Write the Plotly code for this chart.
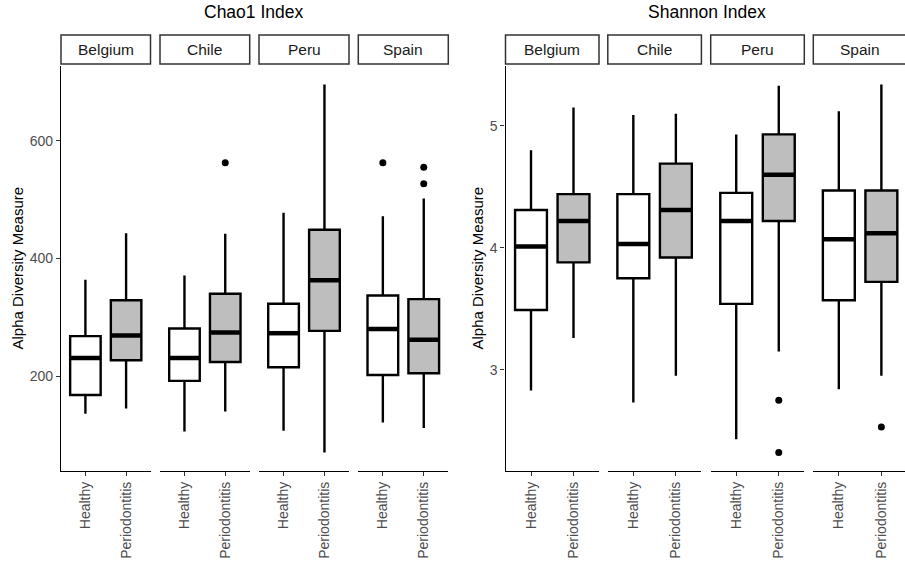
import plotly.graph_objects as go

# ---------------- data ----------------
countries = ["Belgium", "Chile", "Peru", "Spain"]
groups = ["Healthy", "Periodontitis"]
panel_titles = ["Chao1 Index", "Shannon Index"]
y_title = "Alpha Diversity Measure"

chao1_healthy_lower = [136, 106, 107, 121]
chao1_healthy_q1 = [168, 192, 215, 202]
chao1_healthy_median = [231, 231, 273, 280]
chao1_healthy_q3 = [268, 281, 323, 337]
chao1_healthy_upper = [364, 371, 478, 472]
chao1_healthy_outliers = [[], [], [], [563]]

chao1_perio_lower = [145, 140, 70, 112]
chao1_perio_q1 = [227, 224, 277, 205]
chao1_perio_median = [269, 274, 363, 262]
chao1_perio_q3 = [329, 340, 449, 331]
chao1_perio_upper = [443, 442, 696, 502]
chao1_perio_outliers = [[], [563], [], [555, 527]]

shannon_healthy_lower = [2.83, 2.73, 2.43, 2.84]
shannon_healthy_q1 = [3.49, 3.75, 3.54, 3.57]
shannon_healthy_median = [4.01, 4.03, 4.22, 4.07]
shannon_healthy_q3 = [4.31, 4.44, 4.45, 4.47]
shannon_healthy_upper = [4.80, 5.09, 4.93, 5.12]
shannon_healthy_outliers = [[], [], [], []]

shannon_perio_lower = [3.26, 2.95, 3.15, 2.95]
shannon_perio_q1 = [3.88, 3.92, 4.22, 3.72]
shannon_perio_median = [4.22, 4.31, 4.60, 4.12]
shannon_perio_q3 = [4.44, 4.69, 4.93, 4.47]
shannon_perio_upper = [5.15, 5.10, 5.33, 5.34]
shannon_perio_outliers = [[], [], [2.75, 2.32], [2.53]]

chao1_ticks = [200, 400, 600]
shannon_ticks = [3, 4, 5]

# ---------------- styling / layout ----------------
W, H = 905, 563
FONT = "Liberation Sans, Arial, sans-serif"
fills = {"Healthy": "#FFFFFF", "Periodontitis": "#BEBEBE"}
PLOT_TOP, PLOT_BOT = 66, 471
STRIP_TOP, STRIP_BOT = 35, 64


def px(x):
    return x / W


def py(y):
    return 1 - y / H


panels = [
    dict(
        title=panel_titles[0], title_x=254, ytitle_x=17, ticks=chao1_ticks,
        facets=[(61, 150.5), (160, 249.7), (259, 349), (358.3, 448.3)],
        healthy=(chao1_healthy_lower, chao1_healthy_q1, chao1_healthy_median,
                 chao1_healthy_q3, chao1_healthy_upper, chao1_healthy_outliers),
        perio=(chao1_perio_lower, chao1_perio_q1, chao1_perio_median,
               chao1_perio_q3, chao1_perio_upper, chao1_perio_outliers),
    ),
    dict(
        title=panel_titles[1], title_x=706.5, ytitle_x=477, ticks=shannon_ticks,
        facets=[(505.5, 599), (607.8, 701.4), (710.7, 804.3), (813.3, 906.9)],
        healthy=(shannon_healthy_lower, shannon_healthy_q1, shannon_healthy_median,
                 shannon_healthy_q3, shannon_healthy_upper, shannon_healthy_outliers),
        perio=(shannon_perio_lower, shannon_perio_q1, shannon_perio_median,
               shannon_perio_q3, shannon_perio_upper, shannon_perio_outliers),
    ),
]

fig = go.Figure()
layout = dict(
    width=W, height=H, autosize=False,
    margin=dict(l=0, r=0, t=0, b=0),
    paper_bgcolor="white", plot_bgcolor="rgba(0,0,0,0)",
    showlegend=False, boxmode="overlay",
    font=dict(family=FONT, color="#1A1A1A"),
)
shapes, annotations = [], []

ax_i = 0
for p_i, panel in enumerate(panels):
    yname = "yaxis" if p_i == 0 else "yaxis2"
    yref = "y" if p_i == 0 else "y2"
    # data range with 5% expansion (ggplot style)
    allv = []
    for g in ("healthy", "perio"):
        lo, q1, md, q3, up, outs = panel[g]
        allv += lo + up + [v for o in outs for v in o]
    vmin, vmax = min(allv), max(allv)
    pad = 0.05 * (vmax - vmin)
    first_xref = None
    for f_i, (a, b) in enumerate(panel["facets"]):
        ax_i += 1
        xname = "xaxis" if ax_i == 1 else f"xaxis{ax_i}"
        xref = "x" if ax_i == 1 else f"x{ax_i}"
        if first_xref is None:
            first_xref = xref
        full_w = b - a
        right = min(b, W)
        rng_hi = -0.6 + 2.2 * (right - a) / full_w
        layout[xname] = dict(
            domain=[px(a), px(right)], anchor=yref, type="category",
            categoryorder="array", categoryarray=groups,
            range=[-0.6, rng_hi], showgrid=False, zeroline=False,
            showline=True, linecolor="#000000", linewidth=1.3,
            ticks="outside", ticklen=4, tickwidth=1.2, tickcolor="#333333",
            tickangle=-90, tickfont=dict(size=14, color="#4D4D4D", family=FONT),
            fixedrange=True,
        )
        box_px = 0.75 * full_w / 2.2
        for g_key, g_name in (("healthy", groups[0]), ("perio", groups[1])):
            lo, q1, md, q3, up, outs = panel[g_key]
            fig.add_trace(go.Box(
                x=[g_name], lowerfence=[lo[f_i]], q1=[q1[f_i]], median=[md[f_i]],
                q3=[q3[f_i]], upperfence=[up[f_i]],
                xaxis=xref, yaxis=yref, width=0.75, whiskerwidth=0,
                fillcolor=fills[g_name], line=dict(color="#000000", width=2.4),
                boxpoints=False, hoverinfo="skip",
            ))
            # thicker median bar (line-ew symbol spans 1.4 x size)
            fig.add_trace(go.Scatter(
                x=[g_name], y=[md[f_i]], xaxis=xref, yaxis=yref, mode="markers",
                marker=dict(symbol="line-ew", size=(box_px - 1.5) / 1.4,
                            line=dict(color="#000000", width=4.5)),
                hoverinfo="skip",
            ))
            if outs[f_i]:
                fig.add_trace(go.Scatter(
                    x=[g_name] * len(outs[f_i]), y=outs[f_i], xaxis=xref, yaxis=yref,
                    mode="markers", marker=dict(color="#000000", size=7),
                    hoverinfo="skip",
                ))
        # strip
        shapes.append(dict(
            type="rect", xref="paper", yref="paper",
            x0=px(a), x1=px(b), y0=py(STRIP_BOT), y1=py(STRIP_TOP),
            line=dict(color="#333333", width=1.5), fillcolor="white", layer="below",
        ))
        annotations.append(dict(
            text=countries[f_i], xref="paper", yref="paper",
            x=px((a + b) / 2), y=py((STRIP_TOP + STRIP_BOT) / 2),
            xanchor="center", yanchor="middle", showarrow=False,
            font=dict(size=15.5, color="#1A1A1A", family=FONT),
        ))
    layout[yname] = dict(
        domain=[py(PLOT_BOT), py(PLOT_TOP)], anchor=first_xref,
        range=[vmin - pad, vmax + pad], showgrid=False, zeroline=False,
        showline=True, linecolor="#000000", linewidth=1.3,
        ticks="outside", ticklen=4, tickwidth=1.2, tickcolor="#333333",
        tickvals=panel["ticks"], tickfont=dict(size=14, color="#4D4D4D", family=FONT),
        fixedrange=True,
    )
    annotations.append(dict(
        text=panel["title"], xref="paper", yref="paper",
        x=px(panel["title_x"]), y=py(12), xanchor="center", yanchor="middle",
        showarrow=False, font=dict(size=17.5, color="#000000", family=FONT),
    ))
    annotations.append(dict(
        text=y_title, xref="paper", yref="paper", textangle=-90,
        x=px(panel["ytitle_x"]), y=py((PLOT_TOP + PLOT_BOT) / 2),
        xanchor="center", yanchor="middle", showarrow=False,
        font=dict(size=15, color="#000000", family=FONT),
    ))

layout["shapes"] = shapes
layout["annotations"] = annotations
fig.update_layout(**layout)
fig.write_html(
    "out.html",
    config={"displayModeBar": False},
    post_script="document.body.style.margin='0';document.body.style.padding='0';"
                "document.body.style.overflow='hidden';",
)
